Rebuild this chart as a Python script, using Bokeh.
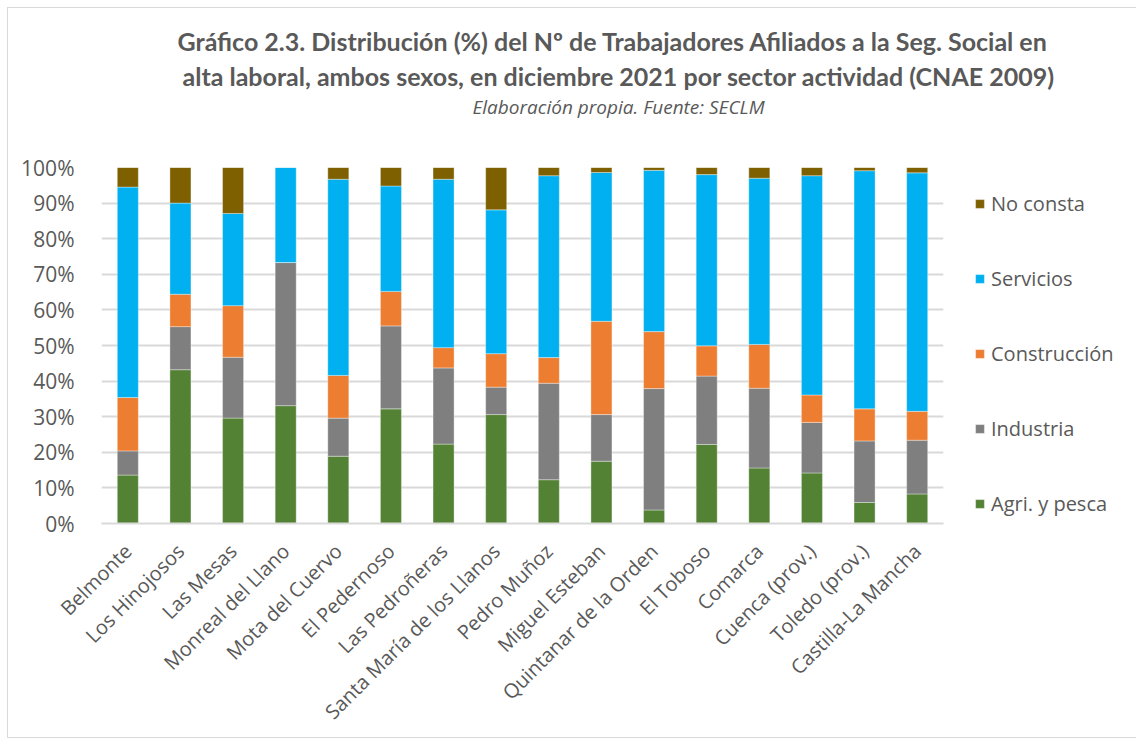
import math
from bokeh.plotting import figure
from bokeh.models import Legend, LegendItem, Title, Range1d, FixedTicker, PrintfTickFormatter
from bokeh.embed import file_html
from bokeh.resources import INLINE

municipios = ["Belmonte", "Los Hinojosos", "Las Mesas", "Monreal del Llano", "Mota del Cuervo",
              "El Pedernoso", "Las Pedroñeras", "Santa María de los Llanos", "Pedro Muñoz",
              "Miguel Esteban", "Quintanar de la Orden", "El Toboso", "Comarca", "Cuenca (prov.)",
              "Toledo (prov.)", "Castilla-La Mancha"]
agri = [13.6, 43.2, 29.6, 33.1, 18.9, 32.2, 22.3, 30.6, 12.3, 17.5, 3.8, 22.2, 15.6, 14.2, 5.9, 8.3]
industria = [6.8, 12.1, 17.1, 40.2, 10.7, 23.3, 21.4, 7.7, 27.1, 13.1, 34.1, 19.2, 22.4, 14.2, 17.3, 15.1]
construccion = [15.0, 9.1, 14.5, 0.0, 12.0, 9.7, 5.7, 9.4, 7.2, 26.2, 16.0, 8.5, 12.3, 7.7, 9.0, 8.1]
servicios = [59.1, 25.6, 25.9, 26.7, 55.1, 29.6, 47.3, 40.4, 51.1, 41.8, 45.3, 48.1, 46.7, 61.6, 66.9, 67.0]
no_consta = [5.5, 10.0, 12.9, 0.0, 3.3, 5.2, 3.3, 11.9, 2.3, 1.4, 0.8, 2.0, 3.0, 2.3, 0.9, 1.5]

series = ["Agri. y pesca", "Industria", "Construcción", "Servicios", "No consta"]
colors = ["#548235", "#7f7f7f", "#ed7d31", "#00b0f0", "#7f6000"]
y_ticks = list(range(0, 101, 10))

title1 = "Gráfico 2.3.  Distribución (%) del Nº de Trabajadores Afiliados a la Seg. Social en"
title2 = "alta laboral, ambos sexos, en diciembre 2021 por sector actividad (CNAE 2009)"
subtitle = "Elaboración propia. Fuente: SECLM"

FONT = "Open Sans"
TFONT = "Lato"
TXT = "#595959"

data = {"mun": municipios, "Agri. y pesca": agri, "Industria": industria,
        "Construcción": construccion, "Servicios": servicios, "No consta": no_consta}

p = figure(x_range=municipios, y_range=Range1d(0, 100), frame_width=842, frame_height=356,
           output_backend="svg", toolbar_location=None,
           min_border_left=93, min_border_right=180, min_border_top=159, min_border_bottom=205)
p.styles = {"margin": "7px", "border": "1px solid #d9d9d9"}

rs = p.vbar_stack(series, x="mun", width=0.4, color=colors, source=data,
                  line_color="#ffffff", line_alpha=0.45, line_width=0.8)

p.yaxis.ticker = FixedTicker(ticks=y_ticks)
p.yaxis.formatter = PrintfTickFormatter(format="%d%%")
p.yaxis.axis_line_color = None
p.yaxis.major_tick_line_color = None
p.yaxis.minor_tick_line_color = None
p.yaxis.major_label_text_font = FONT
p.yaxis.major_label_text_font_size = "21px"
p.yaxis.major_label_text_color = TXT
p.yaxis.major_label_standoff = 21

p.xaxis.axis_line_color = "#d9d9d9"
p.xaxis.axis_line_width = 2
p.xaxis.major_tick_line_color = None
p.xaxis.major_label_orientation = math.pi / 4
p.xaxis.major_label_text_font = FONT
p.xaxis.major_label_text_font_size = "20px"
p.xaxis.major_label_text_color = TXT
p.xaxis.major_label_standoff = 18

p.xgrid.grid_line_color = None
p.ygrid.grid_line_color = "#d9d9d9"
p.ygrid.grid_line_width = 2
p.outline_line_color = None
p.x_range.range_padding = 0

items = [LegendItem(label=s, renderers=[r]) for s, r in zip(series, rs)]
items.reverse()
legend = Legend(items=items, location=(31, 6), orientation="vertical",
                label_text_font=FONT, label_text_font_size="20px", label_text_color=TXT,
                glyph_width=11, glyph_height=11, label_standoff=6, spacing=47,
                label_height=28, padding=0, margin=0, border_line_color=None,
                background_fill_alpha=0)
p.add_layout(legend, "right")

spacer = Title(text=" ", text_font_size="2px", standoff=44)
sub = Title(text=subtitle, align="left", offset=371, text_font=FONT,
            text_font_size="19px", text_font_style="italic", text_color=TXT, standoff=0)
t2 = Title(text=title2, align="left", offset=81, text_font=TFONT, text_font_size="25px",
           text_font_style="bold", text_color=TXT, standoff=2)
t1 = Title(text=title1, align="left", offset=76, text_font=TFONT, text_font_size="25px",
           text_font_style="bold", text_color=TXT, standoff=4)
p.add_layout(spacer, "above")
p.add_layout(sub, "above")
p.add_layout(t2, "above")
p.add_layout(t1, "above")

open("out.html", "w").write(file_html(p, INLINE))
